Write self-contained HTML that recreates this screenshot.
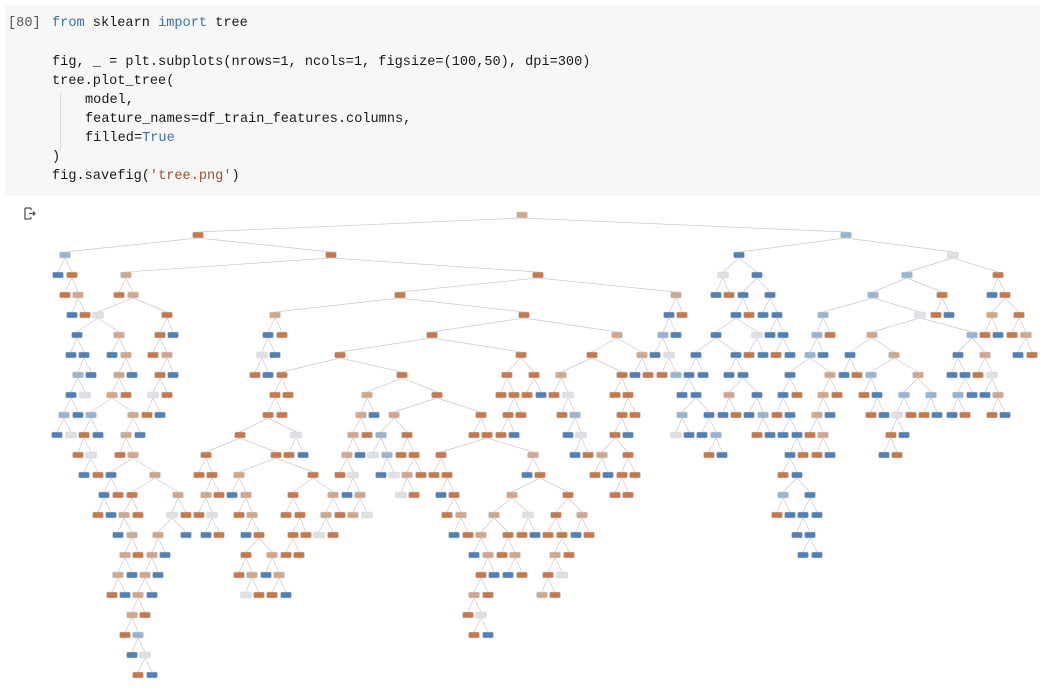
<!DOCTYPE html>
<html><head><meta charset="utf-8">
<style>
html,body{margin:0;padding:0;background:#fff;width:1044px;height:699px;overflow:hidden;font-family:"Liberation Mono",monospace}
#cell{position:absolute;left:5px;top:5px;width:1035px;height:191px;background:#f7f7f7}
.ln{position:absolute;font-size:13.6px;color:#1a1a1a;white-space:pre;line-height:16px}
.kw{color:#3f6fa6}.st{color:#a0522d}.pr{color:#555}
#guide{position:absolute;left:60px;top:93px;width:1px;height:58px;background:#ddd}
svg{position:absolute;left:0;top:0}
</style></head>
<body>
<div id="cell"></div>
<div class="ln pr" style="left:8px;top:16px">[80]</div>
<div class="ln" style="left:52px;top:16px"><span class="kw">from</span> sklearn <span class="kw">import</span> tree</div>
<div class="ln" style="left:52px;top:55px">fig, _ = plt.subplots(nrows=1, ncols=1, figsize=(100,50), dpi=300)</div>
<div class="ln" style="left:52px;top:74px">tree.plot_tree(</div>
<div id="guide"></div>
<div class="ln" style="left:85px;top:93px">model,</div>
<div class="ln" style="left:85px;top:112px">feature_names=df_train_features.columns,</div>
<div class="ln" style="left:85px;top:131px">filled=<span class="kw">True</span></div>
<div class="ln" style="left:52px;top:150px">)</div>
<div class="ln" style="left:52px;top:169px">fig.savefig(<span class="st">'tree.png'</span>)</div>
<svg width="1044" height="699" id="tree">
<g fill="none" stroke="#555" stroke-width="1.3">
<path d="M25 208 h6 M25 208 v11 h6 M31 208 v2 M31 217 v2"/><path d="M29 213.5 h6 M33 211.5 l2 2 l-2 2"/>
</g>
</svg>
<script>
const levels = [
"522l",
"198o 846p",
"65p 331o 739b 953w",
"58b 72o 126l 538o 723w 757b 907p 998o",
"65o 78l 119o 133l 400o 676l 716b 729o 743b 770b 873p 942o 992b 1005o",
"72b 85o 98w 167o 275l 524o 669b 682o 736b 749o 763b 777b 823p 920w 936o 949b 992l 1019o",
"77b 119l 160o 173b 268b 282o 432o 617l 663p 676b 716b 757w 770b 783b 817p 830o 872l 972p 985o 998b 1012o 1026l",
"71b 84b 112b 126l 153o 167l 262w 275b 340o 521o 592o 642l 655b 669w 696b 736b 749o 763b 776o 790b 810p 823b 850b 894l 958b 985l 1018b 1032o",
"78p 91b 119l 132b 160o 173b 255o 268b 282o 402o 507o 534o 561l 622o 635b 648o 662o 676p 689b 703b 729b 743b 790b 830l 844b 857o 871p 918l 952b 965b 978o 992w",
"71b 85w 112l 126o 153w 167o 275o 288o 367l 437o 501o 514o 527o 541b 554o 568w 615o 628o 682b 696b 729l 757b 783b 797o 823l 837o 864o 877b 904p 931p 958p 972b 985b 998l",
"64p 78b 91p 133l 147o 160b 268o 282o 361l 374b 394l 481o 508o 521o 562o 575p 622o 635o 682p 709b 723b 736o 749b 763p 777o 790b 817l 830b 871o 884b 897w 911o 924o 937b 952b 965o 992o 1005b",
"57b 71w 84o 98b 126l 140b 240o 296w 353l 367o 381p 407o 474o 487o 501o 514b 568b 581w 615o 628b 676w 689b 702b 716p 757o 770b 783b 797b 810o 823l 891o 904b",
"78o 91w 120o 133l 206o 276o 289o 303b 347l 360b 373w 387p 401o 414o 441o 533l 575b 588o 602l 628o 709o 722b 790b 803o 817o 830b 884b 897o",
"84b 98o 111b 155l 199o 212o 239l 313o 340o 353w 381b 394w 407l 421o 434o 447o 527b 540o 595o 608b 622o 635o 783o 797b",
"104b 118o 132o 178l 206l 219o 232b 246l 293o 333l 347b 360l 401w 414o 441b 454o 512l 568o 615o 628o 783p 810b",
"98o 111b 124l 138o 172w 186o 199o 212w 239o 252l 286o 300o 326l 340o 353l 367w 447o 461l 494l 528w 556o 582l 777o 790b 803b 817b",
"118b 132l 158l 186b 206b 219o 246b 259o 293o 306o 319w 333o 454b 468o 481l 508o 522o 535b 548o 562o 576b 589o 797b 810b",
"125l 138o 152l 165b 246o 272l 286o 299o 474b 488l 502o 515l 555l 569o 803b 817b",
"118l 132b 145l 158b 239o 252l 266b 279l 481o 494b 508b 522o 548o 562w",
"112o 125b 138l 152b 246w 259o 272o 286b 474l 488o 542l 555o",
"132l 145o 468o 481w",
"125o 138p 474o 488b",
"132b 145w",
"138o 152b"
];
const palette = {o:"#c37a4e", l:"#cfa78f", b:"#5181b4", p:"#9ab3d0", w:"#dfe0e6"};
const y0 = 215, dy = 20, NW = 11, NH = 6;
const svg = document.getElementById('tree');
const NS = 'http://www.w3.org/2000/svg';
const parsed = levels.map(s => s.split(' ').map(t => ({x: parseFloat(t), c: t.slice(-1)})));
const yOf = i => y0 + i * dy;
const edges = document.createElementNS(NS,'g');


svg.appendChild(edges);
for (let i = 1; i < parsed.length; i++) {
  const kids = parsed[i].slice().sort((a,b)=>a.x-b.x);
  for (let k = 0; k + 1 < kids.length; k += 2) {
    const mid = (kids[k].x + kids[k+1].x) / 2;
    let best = parsed[i-1][0];
    parsed[i-1].forEach(p => { if (Math.abs(p.x - mid) < Math.abs(best.x - mid)) best = p; });
    [kids[k], kids[k+1]].forEach(ch => {
      const ln = document.createElementNS(NS,'line');
      
      
      ln.setAttribute('x1', best.x); ln.setAttribute('y1', yOf(i-1) + NH/2);
      ln.setAttribute('x2', ch.x); ln.setAttribute('y2', yOf(i) - NH/2);
      ln.setAttribute('stroke', '#c9c9c9'); ln.setAttribute('stroke-width', '0.7');
      edges.appendChild(ln);
    });
  }
}
const nodes = document.createElementNS(NS,'g');


svg.appendChild(nodes);
parsed.forEach((lev, i) => lev.forEach(n => {
  const r = document.createElementNS(NS,'rect');
  
  
  r.setAttribute('x', n.x - NW/2); r.setAttribute('y', yOf(i) - NH/2);
  r.setAttribute('width', NW); r.setAttribute('height', NH);
  r.setAttribute('rx', 1.5);
  r.setAttribute('fill', palette[n.c]);
  r.setAttribute('stroke', '#d8d8d8'); r.setAttribute('stroke-width', '0.6');
  nodes.appendChild(r);
}));
</script>
</body></html>
